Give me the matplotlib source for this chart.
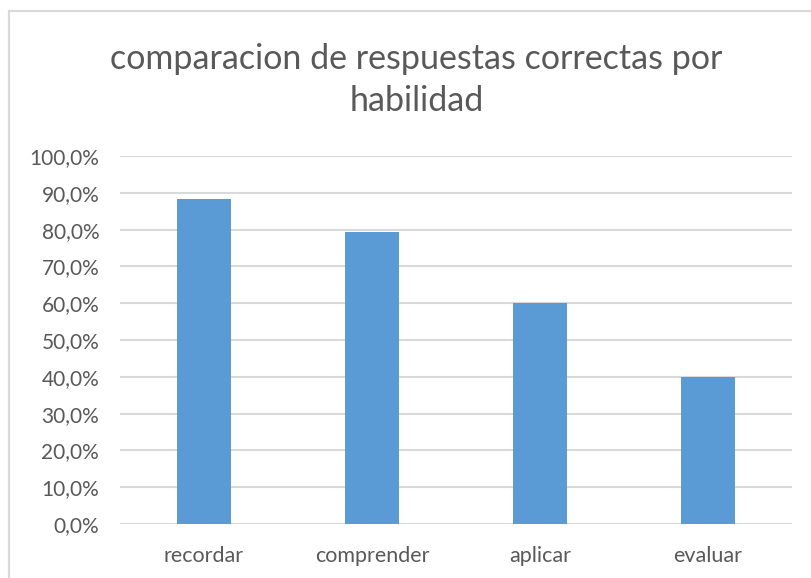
import matplotlib.pyplot as plt
from matplotlib.patches import Rectangle
from matplotlib.ticker import FuncFormatter, MultipleLocator

plt.rcParams['font.family'] = ['Lato', 'DejaVu Sans']

categories = ['recordar', 'comprender', 'aplicar', 'evaluar']
values = [0.882, 0.794, 0.60, 0.40]

fig = plt.figure(figsize=(8.12, 5.78), dpi=100)
ax = fig.add_axes([120 / 812, 1 - 524 / 578, 672 / 812, 368 / 578])

# chart border (only top and left visible in the crop)
fig.patches.append(Rectangle((9 / 812, -0.1), 1.2, (578 - 11) / 578 + 0.1,
                             transform=fig.transFigure, fill=False,
                             edgecolor='#d9d9d9', linewidth=1.6))

ax.bar(categories, values, width=0.32, color='#5b9bd5', zorder=3)

ax.set_ylim(0, 1.0)
ax.set_xlim(-0.5, 3.5)
ax.yaxis.set_major_locator(MultipleLocator(0.1))
ax.yaxis.set_major_formatter(FuncFormatter(lambda v, p: f'{v * 100:.1f}%'.replace('.', ',')))
ax.grid(axis='y', color='#d9d9d9', linewidth=1.5, zorder=0)
ax.set_axisbelow(True)

for s in ax.spines.values():
    s.set_visible(False)
ax.tick_params(axis='both', length=0, colors='#595959')
ax.tick_params(axis='y', pad=15, labelsize=15)
ax.tick_params(axis='x', pad=16, labelsize=15.5)

fig.text(0.5 * (107 + 726) / 812, 1 - 80 / 578, 'comparacion de respuestas correctas por\nhabilidad',
         ha='center', va='center', fontsize=24.5,
         color='#595959', linespacing=1.4)

fig.savefig('out.png', dpi=100)
